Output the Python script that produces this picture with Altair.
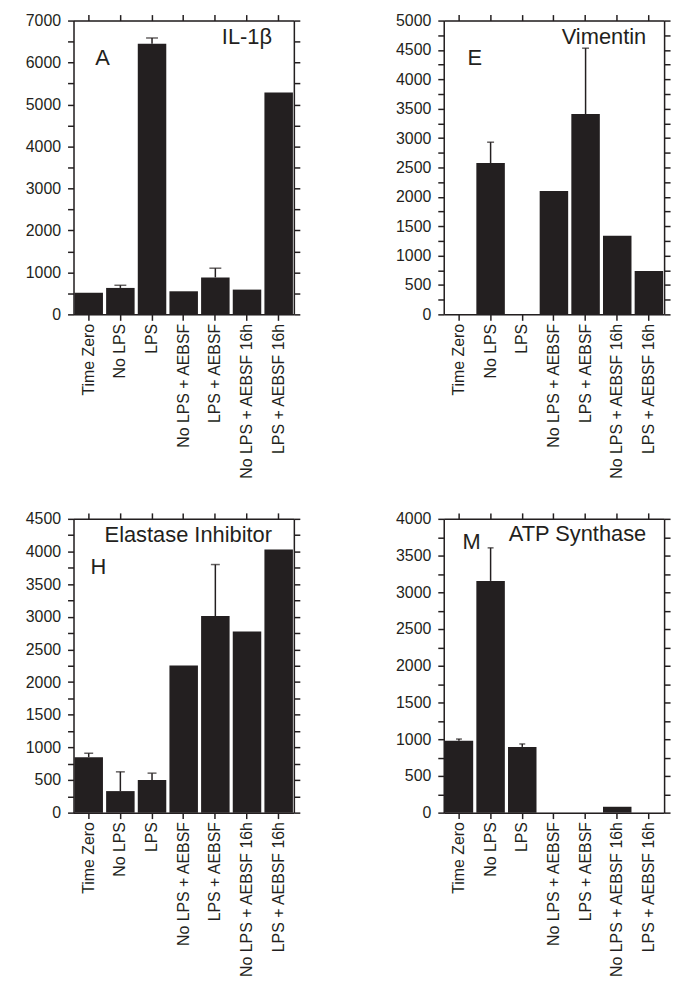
import altair as alt
import pandas as pd

INK = "#231f20"
FONT = "Liberation Sans"

categories = ["Time Zero", "No LPS", "LPS", "No LPS + AEBSF", "LPS + AEBSF",
              "No LPS + AEBSF 16h", "LPS + AEBSF 16h"]

il1b_mean = [515, 630, 6450, 550, 880, 590, 5285]
il1b_sd = [None, 63, 135, None, 220, None, None]

vim_mean = [0, 2575, 0, 2100, 3410, 1340, 740]
vim_sd = [None, 355, None, None, 1120, None, None]

ela_mean = [850, 330, 500, 2255, 3010, 2775, 4030]
ela_sd = [60, 295, 105, None, 790, None, None]

atp_mean = [980, 3155, 895, 0, 0, 80, 0]
atp_sd = [22, 450, 40, None, None, None, None]

PW, PH = 222, 296


def panel(mean, sd, ymax, major, minor, title, letter, title_x, title_y,
          letter_x, letter_y, capw):
    df = pd.DataFrame({"cat": categories, "val": mean, "sd": sd})
    df["hi"] = df["val"] + df["sd"]
    errdf = df.dropna(subset=["sd"]).copy()
    ticks = list(range(0, ymax + 1, minor))
    xs = alt.Scale(domain=categories, paddingInner=0.1, paddingOuter=0.03)
    ys = alt.Scale(domain=[0, ymax], nice=False, zero=True)
    common = dict(domainColor=INK, domainWidth=1.5, tickColor=INK, tickWidth=1.5,
                  tickSize=6, grid=False, title=None)
    bars = alt.Chart(df).mark_bar(color=INK).encode(
        x=alt.X("cat:N", sort=categories, scale=xs,
                axis=alt.Axis(orient="bottom", labelAngle=-90, labelPadding=3,
                              labelFont=FONT, labelFontSize=16, labelColor=INK,
                              labelLimit=300, minExtent=165, maxExtent=165, **common)),
        y=alt.Y("val:Q", scale=ys,
                axis=alt.Axis(orient="left", values=ticks, format="d",
                              labelExpr=f"datum.value % {major} === 0 ? datum.label : ''",
                              labelOverlap=False, labelFlush=False, labelPadding=7,
                              labelFont=FONT, labelFontSize=16, labelColor=INK,
                              minExtent=60, maxExtent=60, **common)),
    )
    err = alt.Chart(errdf).mark_rule(color=INK, strokeWidth=1.5).encode(
        x=alt.X("cat:N", sort=categories, scale=xs,
                axis=alt.Axis(orient="top", labels=False, minExtent=6, maxExtent=6, **common)),
        y=alt.Y("val:Q", scale=ys,
                axis=alt.Axis(orient="right", values=ticks, labels=False,
                              minExtent=6, maxExtent=6, **common)),
        y2="hi:Q",
    )
    cap = alt.Chart(errdf).mark_tick(color=INK, thickness=1.5, size=capw).encode(
        x=alt.X("cat:N", sort=categories, scale=xs, axis=None),
        y=alt.Y("hi:Q", scale=ys, axis=None),
    )
    t1 = alt.Chart(pd.DataFrame({"label": [title]})).mark_text(
        font=FONT, fontSize=22, color=INK, align="right", baseline="alphabetic"
    ).encode(text="label:N", x=alt.value(title_x), y=alt.value(title_y))
    t2 = alt.Chart(pd.DataFrame({"label": [letter]})).mark_text(
        font=FONT, fontSize=22, color=INK, align="left", baseline="alphabetic"
    ).encode(text="label:N", x=alt.value(letter_x), y=alt.value(letter_y))
    return alt.layer(bars, err, cap, t1, t2).resolve_scale(
        x="independent", y="independent").properties(width=PW, height=PH)


pA = panel(il1b_mean, il1b_sd, 7000, 1000, 500, "IL-1β", "A", 200, 24, 22, 45, 12)
pE = panel(vim_mean, vim_sd, 5000, 500, 250, "Vimentin", "E", 204, 24, 24, 45, 7)
pH = panel(ela_mean, ela_sd, 4500, 500, 250, "Elastase Inhibitor", "H", 200, 23, 17, 56, 9)
pM = panel(atp_mean, atp_sd, 4000, 500, 250, "ATP Synthase", "M", 204, 22, 19, 30, 6)

chart = alt.vconcat(
    alt.hconcat(pA, pE, spacing=82),
    alt.hconcat(pH, pM, spacing=82),
    spacing=30,
).properties(
    padding={"left": 5, "top": 0, "right": 5, "bottom": 5}
).configure_view(strokeWidth=0).configure(background="white")

chart.save("out.html", embed_options={"renderer": "svg", "actions": False})
